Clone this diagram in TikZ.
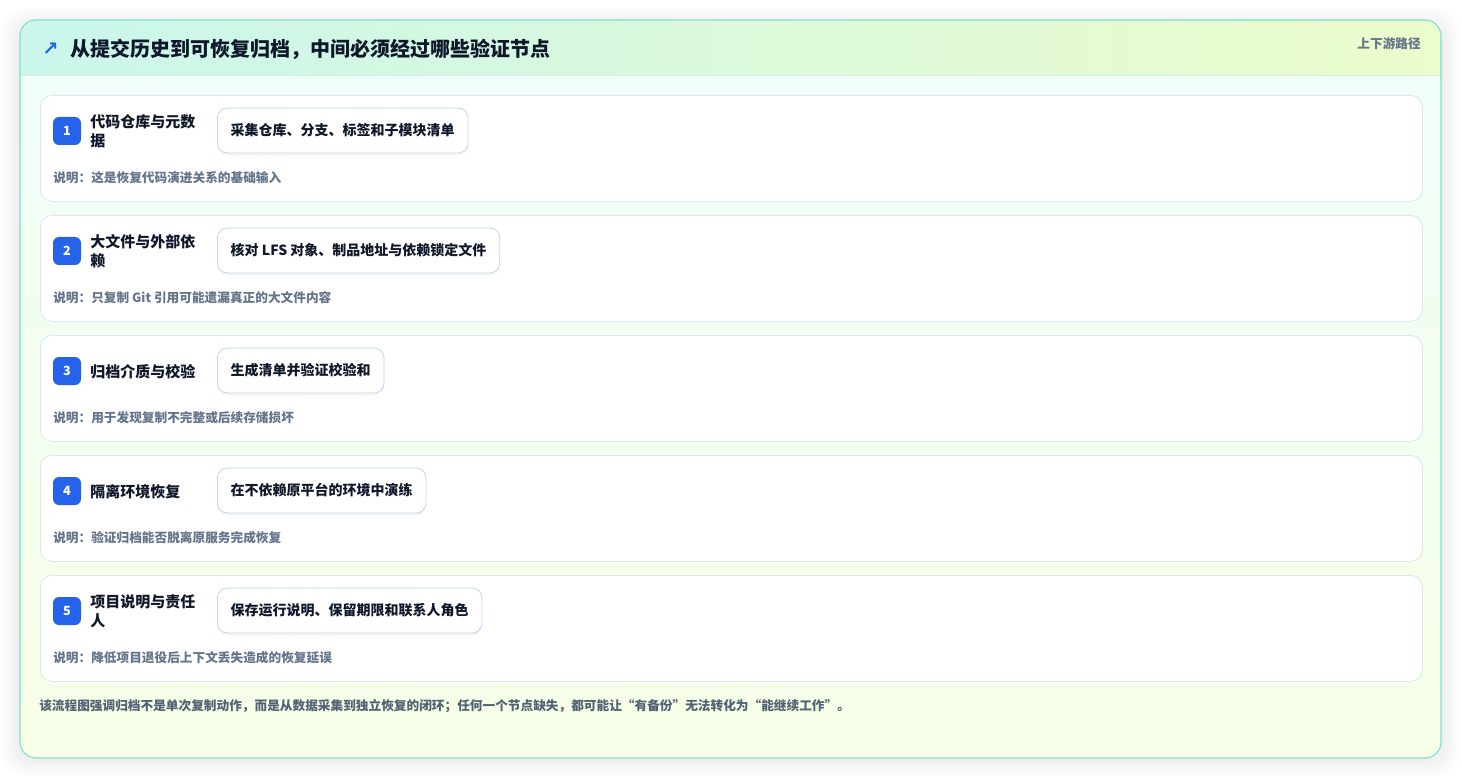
\documentclass[tikz,border=0pt]{standalone}
\usepackage{fontspec}
\setmainfont{Noto Sans CJK SC}
\newfontfamily\symfont{DejaVu Sans}
\usetikzlibrary{positioning}
\definecolor{headleft}{HTML}{CAF6EB}
\definecolor{headright}{HTML}{ECFCCB}
\definecolor{bodytop}{HTML}{F0FDFA}
\definecolor{bodybot}{HTML}{F6FEE6}
\definecolor{frameline}{HTML}{7EDFD0}
\definecolor{headrule}{HTML}{D5EEEA}
\definecolor{cardline}{HTML}{DCE8F0}
\definecolor{actline}{HTML}{C3D4EE}
\definecolor{badgeblue}{HTML}{2563EB}
\definecolor{inkdark}{HTML}{0F172A}
\definecolor{inkgray}{HTML}{64748B}
\definecolor{inkfoot}{HTML}{526173}
\tikzset{stage card/.style={draw=cardline,fill=white,line width=0.6pt,rounded corners=9pt,minimum width=1036.5pt,minimum height=79.5pt,inner sep=0pt,anchor=north west}}
\tikzset{stage badge/.style={fill=badgeblue,rounded corners=4.5pt,minimum width=21pt,minimum height=21pt,inner sep=0pt,text=white,font=\bfseries\fontsize{9.5}{11}\selectfont}}
\tikzset{stage title/.style={anchor=west,inner sep=0pt,align=left,text=inkdark,font=\bfseries\fontsize{11.25}{14.25}\selectfont}}
\tikzset{stage action/.style={anchor=west,draw=actline,fill=white,line width=0.6pt,rounded corners=7.5pt,minimum height=33.75pt,inner xsep=10pt,text=inkdark,font=\bfseries\fontsize{10.5}{12.5}\selectfont,preaction={fill=black,opacity=0.035,transform canvas={yshift=-2pt}}}}
\tikzset{stage note/.style={anchor=west,inner sep=0pt,text=inkgray,font=\bfseries\fontsize{9.5}{11}\selectfont}}
\begin{document}
\begin{tikzpicture}[x=0.75pt,y=-0.75pt]
\useasboundingbox (0,0) rectangle (1462,780);
% soft shadow round the frame
\foreach \s in {2,5,8,11,14,18}
  \fill[black,opacity=0.012,rounded corners=16pt] (20-\s,26-\s) rectangle (1441+\s,758+\s);
% frame with header band
\begin{scope}
  \clip[rounded corners=12pt] (20,20) rectangle (1441,758);
  \shade[top color=bodytop,bottom color=bodybot] (20,20) rectangle (1441,758);
  \shade[left color=headleft,right color=headright] (20,20) rectangle (1441,75);
\end{scope}
\draw[headrule,line width=0.6pt] (20,75) -- (1441,75);
\draw[frameline,line width=0.8pt,rounded corners=12pt] (20,20) rectangle (1441,758);

\node[anchor=west,inner sep=0pt,text=badgeblue,font=\symfont\bfseries\fontsize{14.5}{16}\selectfont] (icon) at (42,49) {↗};
\node[anchor=west,inner sep=0pt,text=inkdark,font=\bfseries\fontsize{15}{17}\selectfont] (title) at (70,49) {从提交历史到可恢复归档，中间必须经过哪些验证节点};
\node[anchor=east,inner sep=0pt,text=inkgray,font=\bfseries\fontsize{9.5}{11}\selectfont] (pathtag) at (1421,44) {上下游路径};

% the five stages
\foreach \i/\ttl/\act/\note in {%
  1/{代码仓库与元数\\据}/{采集仓库、分支、标签和子模块清单}/{这是恢复代码演进关系的基础输入},
  2/{大文件与外部依\\赖}/{核对 LFS 对象、制品地址与依赖锁定文件}/{只复制 Git 引用可能遗漏真正的大文件内容},
  3/{归档介质与校验}/{生成清单并验证校验和}/{用于发现复制不完整或后续存储损坏},
  4/{隔离环境恢复}/{在不依赖原平台的环境中演练}/{验证归档能否脱离原服务完成恢复},
  5/{项目说明与责任\\人}/{保存运行说明、保留期限和联系人角色}/{降低项目退役后上下文丢失造成的恢复延误}}{
  \pgfmathsetmacro\top{95+120*(\i-1)}
  \node[stage card] (card\i) at (40,\top) {};
  \node[stage badge] (badge\i) at (67,\top+36) {\i};
  \node[stage title] (name\i) at (90,\top+36.5) {\ttl};
  \node[stage action] (act\i) at (217,\top+35.5) {\act};
  \node[stage note] (note\i) at (53,\top+83) {说明：\note};
}

\node[anchor=west,inner sep=0pt,text=inkfoot,font=\bfseries\fontsize{9.5}{11}\selectfont] (summary) at (39,706) {该流程图强调归档不是单次复制动作，而是从数据采集到独立恢复的闭环；任何一个节点缺失，都可能让“有备份”无法转化为“能继续工作”。};
\end{tikzpicture}
\end{document}
